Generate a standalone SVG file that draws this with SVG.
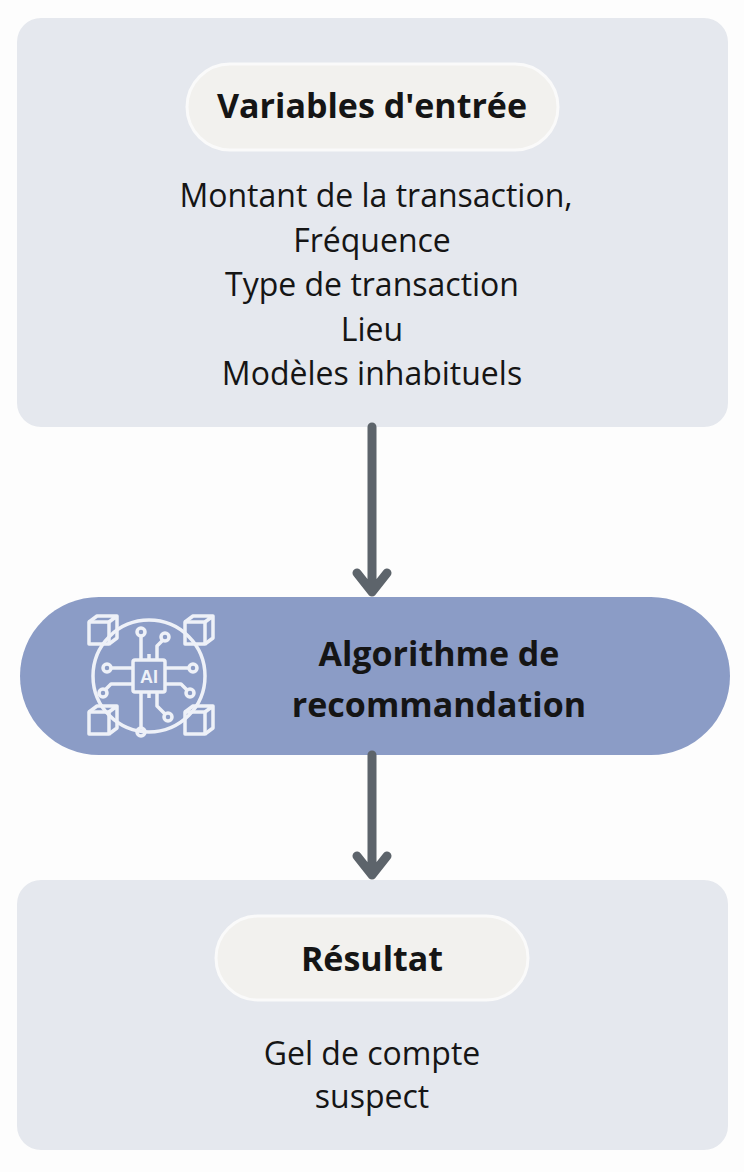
<svg xmlns="http://www.w3.org/2000/svg" width="744" height="1172" viewBox="0 0 744 1172">
<style>
.box{fill:#e5e8ee}
.pill{fill:#f2f1ee;stroke:#fafafa;stroke-width:3}
.t{font-family:"Open Sans","Liberation Sans",sans-serif;fill:#151515;text-anchor:middle}
.h{font-weight:bold;font-size:34px}
.b{font-size:32px}
.conn{stroke:#5d646b;fill:none;stroke-linecap:round;stroke-linejoin:round}
.ic{stroke:#eef1f8;stroke-width:3.5;fill:none;stroke-linejoin:round}
</style>
<rect width="744" height="1172" fill="#fdfdfd"/>
<g id="inputs">
<rect class="box" x="17" y="18" width="711" height="409" rx="24"/>
<rect class="pill" x="187" y="64" width="371" height="86" rx="43"/>
<text class="t h" x="372" y="118">Variables d'entrée</text>
<text class="t b" x="376" y="207">Montant de la transaction,</text>
<text class="t b" x="372" y="252">Fréquence</text>
<text class="t b" x="372" y="296">Type de transaction</text>
<text class="t b" x="372" y="341">Lieu</text>
<text class="t b" x="372" y="385">Modèles inhabituels</text>
</g>
<g id="algo">
<rect x="20" y="597" width="710" height="158" rx="79" fill="#8b9cc6"/>
<g class="ic">
<circle cx="149" cy="676" r="56"/>
<path d="M89 622l8-6h20v22l-8 6M109 622l8-6"/><rect x="89" y="622" width="20" height="22"/>
<path d="M185 622l8-6h20v22l-8 6M205 622l8-6"/><rect x="185" y="622" width="20" height="22"/>
<path d="M89 712l8-6h20v22l-8 6M109 712l8-6"/><rect x="89" y="712" width="20" height="22"/>
<path d="M185 712l8-6h20v22l-8 6M205 712l8-6"/><rect x="185" y="712" width="20" height="22"/>
<rect x="133" y="660" width="32" height="32" rx="2"/>
<path d="M141 660v-24M157 660v-14l6-6M133 668h-22M133 684h-22l-6 6M165 668h24M165 684h16l6 6M141 692v36M157 692v14l8 8M149 660v-6M149 692v6"/>
<circle cx="141" cy="632" r="4"/><circle cx="165" cy="637" r="4"/><circle cx="107" cy="668" r="4"/><circle cx="103" cy="693" r="4"/>
<circle cx="193" cy="668" r="4"/><circle cx="190" cy="693" r="4"/><circle cx="141" cy="732" r="4"/><circle cx="168" cy="717" r="4"/>
</g>
<text x="149" y="683" font-family="Liberation Sans,sans-serif" font-size="18" font-weight="bold" fill="#eef1f8" text-anchor="middle">AI</text>
<text class="t h" x="439" y="666" font-size="37">Algorithme de</text>
<text class="t h" x="439" y="717" font-size="37">recommandation</text>
</g>
<g id="result">
<rect class="box" x="17" y="880" width="711" height="270" rx="24"/>
<rect class="pill" x="216" y="916" width="312" height="84" rx="42"/>
<text class="t h" x="372" y="971">Résultat</text>
<text class="t b" x="372" y="1065">Gel de compte</text>
<text class="t b" x="372" y="1108">suspect</text>
</g>
<g id="connectors">
<path class="conn" stroke-width="9" d="M372 427V592M357 573l15 19 15-19"/>
<path class="conn" stroke-width="9" d="M372 755V875M357 856l15 19 15-19"/>
</g>
</svg>
